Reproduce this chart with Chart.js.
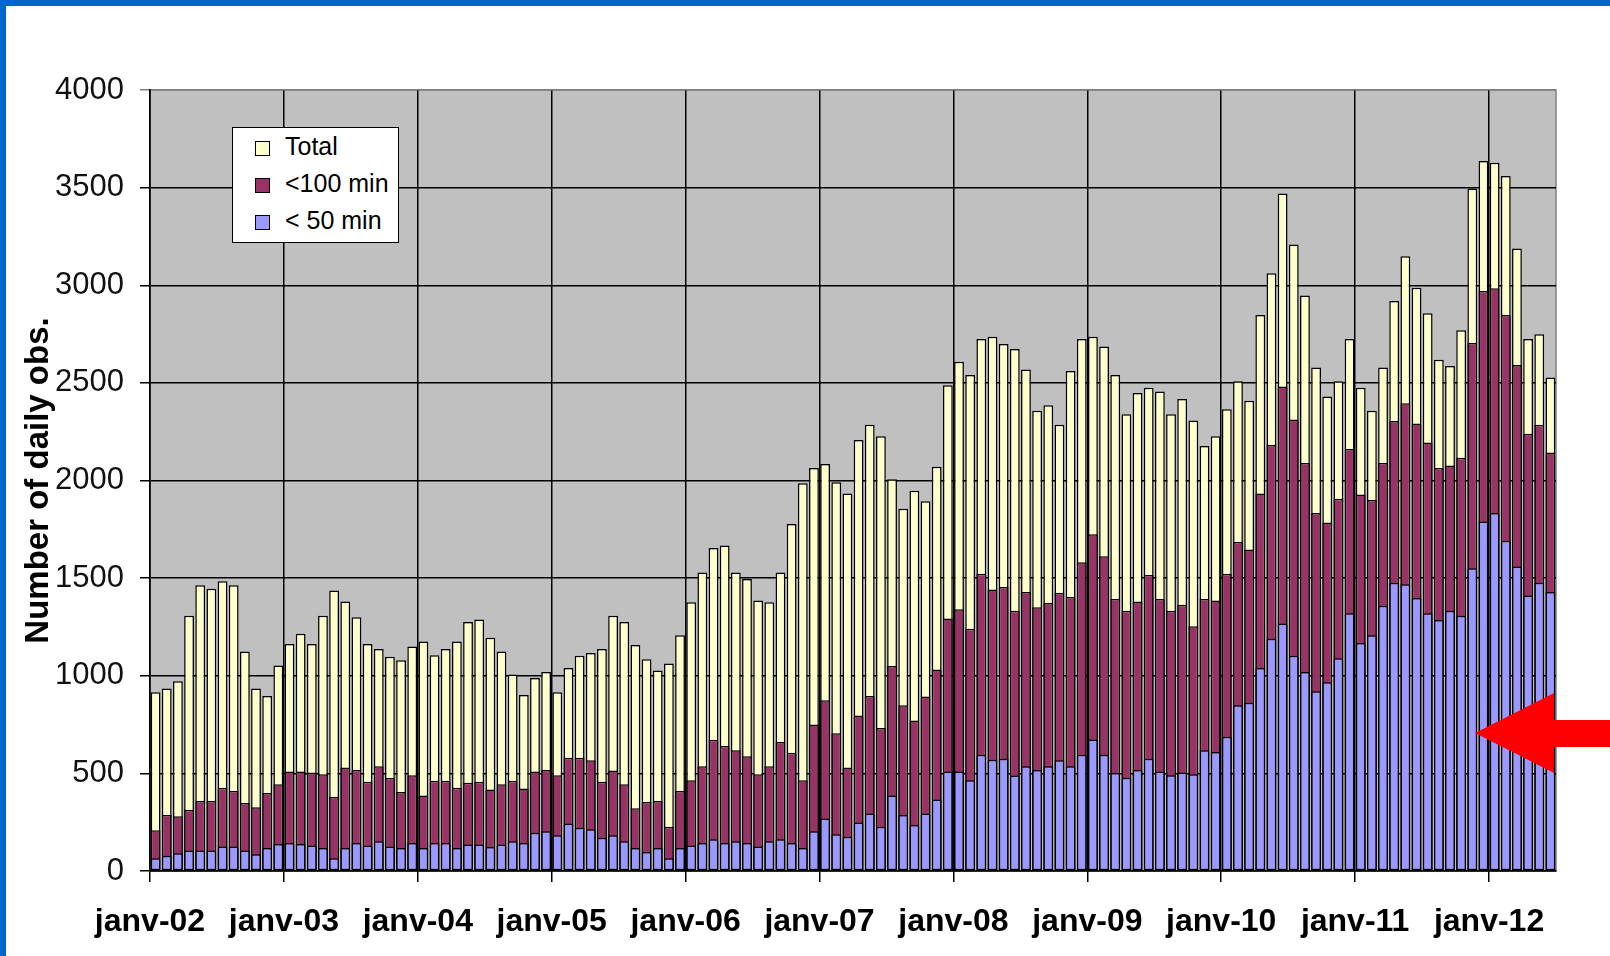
<!DOCTYPE html>
<html>
<head>
<meta charset="utf-8">
<title>Number of daily obs.</title>
<script src="https://cdn.jsdelivr.net/npm/chart.js@4.4.1/dist/chart.umd.min.js"></script>
<style>
  html, body { margin: 0; padding: 0; background: #fff; overflow: hidden; }
  #wrap { position: relative; width: 1610px; height: 956px; }
  #frameTop { position: absolute; left: 0; top: 0; width: 1610px; height: 6px; background: #0066cc; }
  #frameLeft { position: absolute; left: 0; top: 0; width: 6px; height: 956px; background: #0066cc; }
  #legend {
    position: absolute; left: 232px; top: 127px; width: 165px; height: 114px;
    background: #fff; border: 1px solid #000;
    font-family: "Liberation Sans", Arial, sans-serif; font-size: 25px; color: #000;
  }
  .item { position: absolute; left: 22px; height: 30px; line-height: 30px; white-space: nowrap; }
  .item i { display: inline-block; width: 13px; height: 13px; border: 1px solid #000; margin-right: 15px; vertical-align: -1px; }
  #arrow { position: absolute; left: 0; top: 0; }
</style>
</head>
<body>
<div id="wrap">
  <canvas id="chart"></canvas>
  <div id="legend"></div>
  <svg id="arrow" width="1610" height="956">
    <polygon points="1475,733 1554,693 1554,720 1610,720 1610,747 1554,747 1554,773" fill="#ff0000"/>
  </svg>
  <div id="frameTop"></div>
  <div id="frameLeft"></div>
</div>
<script>
// ─── Data (monthly, janv-02 .. juin-12) ─────────────────────────────────────────
const tickLabels = ["janv-02", "janv-03", "janv-04", "janv-05", "janv-06", "janv-07",
  "janv-08", "janv-09", "janv-10", "janv-11", "janv-12"];

const total = [
  915, 935, 972, 1307, 1463, 1445, 1484, 1463, 1124, 935, 896, 1053,
  1163, 1215, 1163, 1307, 1437, 1380, 1299, 1163, 1137, 1097, 1079, 1150,
  1176, 1105, 1137, 1176, 1275, 1288, 1194, 1124, 1006, 901, 988, 1019,
  915, 1040, 1103, 1116, 1137, 1307, 1275, 1158, 1084, 1027, 1063, 1207,
  1377, 1529, 1654, 1667, 1529, 1495, 1385, 1377, 1529, 1777, 1986, 2064,
  2085, 1991, 1934, 2208, 2286, 2226, 2007, 1855, 1947, 1894, 2070, 2488,
  2608, 2540, 2725, 2736, 2699, 2673, 2569, 2357, 2386, 2286, 2561, 2725,
  2736, 2686, 2540, 2339, 2448, 2475, 2456, 2339, 2417, 2307, 2177, 2226,
  2365, 2508, 2409, 2848, 3062, 3470, 3209, 2947, 2579, 2430, 2508, 2725,
  2475, 2357, 2579, 2919, 3149, 2987, 2856, 2618, 2587, 2770, 3496, 3637,
  3627, 3559, 3188, 2725, 2749, 2527
];

const under100 = [
  209, 287, 280, 314, 358, 358, 426, 410, 348, 327, 400, 444,
  510, 510, 504, 496, 379, 530, 517, 457, 536, 476, 405, 491,
  387, 462, 462, 426, 452, 457, 418, 444, 462, 423, 510, 517,
  491, 580, 580, 567, 457, 515, 444, 321, 353, 358, 227, 410,
  465, 536, 672, 640, 619, 588, 496, 536, 661, 606, 465, 750,
  875, 706, 530, 797, 896, 732, 1050, 849, 771, 894, 1032, 1293,
  1340, 1241, 1523, 1442, 1455, 1333, 1429, 1351, 1372, 1424, 1403, 1581,
  1725, 1612, 1393, 1333, 1380, 1516, 1393, 1333, 1364, 1254, 1393, 1385,
  1523, 1685, 1646, 1934, 2182, 2482, 2313, 2090, 1834, 1785, 1907, 2161,
  1928, 1900, 2090, 2305, 2396, 2292, 2195, 2064, 2077, 2117, 2704, 2971,
  2984, 2848, 2592, 2239, 2286, 2143
];

const under50 = [
  65, 78, 91, 105, 105, 105, 125, 125, 105, 86, 118, 138,
  144, 138, 131, 118, 65, 118, 144, 131, 152, 125, 118, 144,
  118, 144, 144, 118, 136, 136, 123, 136, 152, 144, 196, 204,
  183, 243, 222, 214, 170, 183, 152, 118, 97, 118, 65, 118,
  131, 144, 162, 144, 152, 144, 125, 152, 162, 144, 118, 204,
  269, 188, 175, 248, 295, 227, 387, 287, 235, 295, 366, 510,
  510, 465, 596, 570, 575, 489, 536, 517, 536, 567, 536, 596,
  674, 596, 502, 478, 517, 575, 510, 491, 504, 496, 619, 609,
  687, 849, 862, 1040, 1189, 1267, 1103, 1019, 920, 967, 1090, 1320,
  1168, 1207, 1359, 1476, 1469, 1398, 1320, 1286, 1333, 1307, 1550, 1790,
  1834, 1691, 1560, 1411, 1476, 1429
];

const seriesNames = ["Total", "<100 min", "< 50 min"];
const seriesColors = ["#ffffcc", "#993366", "#9999ff"];

// ─── Helpers ──────────────────────────────────────────────────────────────────
const FONT = "'Liberation Sans', Arial, sans-serif";
const toPoints = arr => arr.map((v, i) => ({ x: i + 0.5, y: v }));

function barSet(idx, values, order) {
  return {
    label: seriesNames[idx],
    data: toPoints(values),
    backgroundColor: seriesColors[idx],
    borderColor: "#000",
    borderWidth: 1.5,
    borderSkipped: false,
    grouped: false,
    barPercentage: 0.88,
    categoryPercentage: 1,
    order
  };
}

// grey plot area with a thin grey frame (Excel style)
const plotBg = {
  id: "plotBg",
  beforeDraw(chart) {
    const { ctx, chartArea: a } = chart;
    ctx.save();
    ctx.fillStyle = "#c0c0c0";
    ctx.fillRect(a.left, a.top, a.width, a.height);
    ctx.strokeStyle = "#808080";
    ctx.lineWidth = 1.5;
    ctx.strokeRect(a.left, a.top, a.width, a.height);
    ctx.restore();
  }
};

// ─── Legend (inside the plot, top left) ───────────────────────────────────────
document.getElementById("legend").innerHTML = seriesNames.map((n, i) =>
  `<div class="item" style="top:${3 + i * 37}px"><i style="background:${seriesColors[i]}"></i>${n.replace("<", "&lt;")}</div>`
).join("");

// ─── Chart ────────────────────────────────────────────────────────────────────
const canvas = document.getElementById("chart");
canvas.width = 1610;
canvas.height = 956;

new Chart(canvas.getContext("2d"), {
  type: "bar",
  data: {
    datasets: [
      barSet(0, total, 3),
      barSet(1, under100, 2),
      barSet(2, under50, 1)
    ]
  },
  plugins: [plotBg],
  options: {
    responsive: false,
    animation: false,
    layout: { padding: { left: 0, top: 90, right: 54, bottom: 0 } },
    plugins: { legend: { display: false }, tooltip: { enabled: false } },
    scales: {
      x: {
        type: "linear",
        min: 0,
        max: total.length,
        offset: false,
        grid: { offset: false, color: "#000", lineWidth: 1.5, tickLength: 11 },
        border: { color: "#000", width: 1.5 },
        ticks: {
          stepSize: 12,
          includeBounds: false,
          autoSkip: false,
          maxRotation: 0,
          padding: 21,
          color: "#000",
          font: { family: FONT, size: 32, weight: "bold" },
          callback: v => tickLabels[Math.round(v / 12)]
        },
        afterFit: s => { s.height = 85; }
      },
      y: {
        min: 0,
        max: 4000,
        grid: {
          color: c => (c.tick && c.tick.value === 4000 ? "#808080" : "#000"),
          lineWidth: 1.5,
          tickLength: 10
        },
        border: { color: "#000", width: 1.5 },
        ticks: {
          stepSize: 500,
          padding: 16,
          color: "#111",
          font: { family: FONT, size: 31 },
          callback: v => String(v)
        },
        title: {
          display: true,
          text: "Number of daily obs.",
          color: "#000",
          font: { family: FONT, size: 33, weight: "bold" },
          padding: { top: 19, bottom: 0 }
        },
        afterFit: s => { s.width = 150; }
      }
    }
  }
});
</script>
</body>
</html>
